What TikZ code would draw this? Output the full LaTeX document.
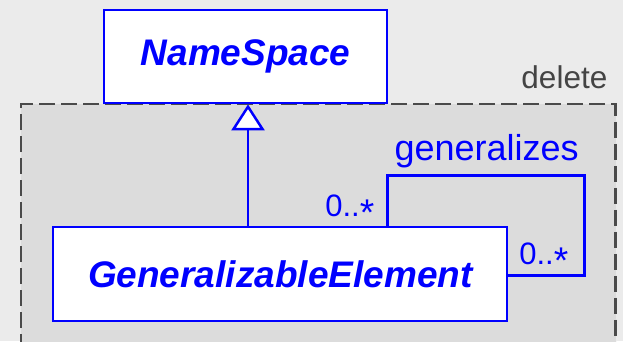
\documentclass[tikz,border=0pt]{standalone}
\usepackage{fontspec}
\setmainfont{Liberation Sans}
\usetikzlibrary{arrows.meta}
\definecolor{umlblue}{HTML}{0000FF}
\definecolor{pagebg}{HTML}{EBEBEB}
\definecolor{framebg}{HTML}{DCDCDC}
\definecolor{framegray}{HTML}{4A4A4A}
\definecolor{notegray}{HTML}{444444}
\newcommand{\mult}{0..\raisebox{-0.3em}{\scalebox{1.2}{*}}}
\tikzset{
  classbox/.style={draw=umlblue, fill=white, line width=2pt, inner sep=0pt,
    text=umlblue, font=\fontsize{37}{40}\selectfont\bfseries\itshape},
  assoc/.style={draw=umlblue, line width=2.5pt},
  genarrow/.style={draw=umlblue, line width=2.5pt,
    -{Triangle[open, fill=white, length=26pt, width=33pt]}},
  rolelabel/.style={text=umlblue, inner sep=0pt, font=\fontsize{31}{34}\selectfont},
  assoclabel/.style={text=umlblue, inner sep=0pt, font=\fontsize{36}{40}\selectfont},
  framebox/.style={draw=framegray, line width=2.5pt, dash pattern=on 16pt off 6pt},
}
\begin{document}
\begin{tikzpicture}[x=1pt, y=-1pt]
  \useasboundingbox (0,0) rectangle (623,341);
  \clip (0,0) rectangle (623,341);
  \fill[pagebg] (0,0) rectangle (623,341);

  % package region marked for deletion
  \fill[framebg] (21,104) rectangle (615.5,350);
  \draw[framebox] (21,350) -- (21,104) -- (615.5,104) -- (615.5,350);
  \node[anchor=base east, inner sep=0pt, text=notegray,
        font=\fontsize{31.5}{34}\selectfont] (del) at (607.5,88.3) {delete};

  % classes
  \node[classbox, minimum width=283.3pt, minimum height=93.3pt] (ns) at (245.7,56.7) {NameSpace};
  \node[classbox, minimum width=454pt, minimum height=93.4pt] (ge) at (280.3,274) {GeneralizableElement};

  % generalization
  \draw[genarrow] (ge.north -| 248,0) -- (ns.south -| 248,0);

  % reflexive association
  \coordinate (loopTR) at (584.3,175.5);
  \draw[assoc] (ge.north -| 387.3,0) |- (loopTR) |- (ge.east |- 0,275.3);
  \node[assoclabel, anchor=base] (gname) at (486.7,160) {generalizes};
  \node[rolelabel, anchor=base east] (m1) at (374.5,216) {\mult};
  \node[rolelabel, anchor=base east] (m2) at (568.5,264.3) {\mult};
\end{tikzpicture}
\end{document}
